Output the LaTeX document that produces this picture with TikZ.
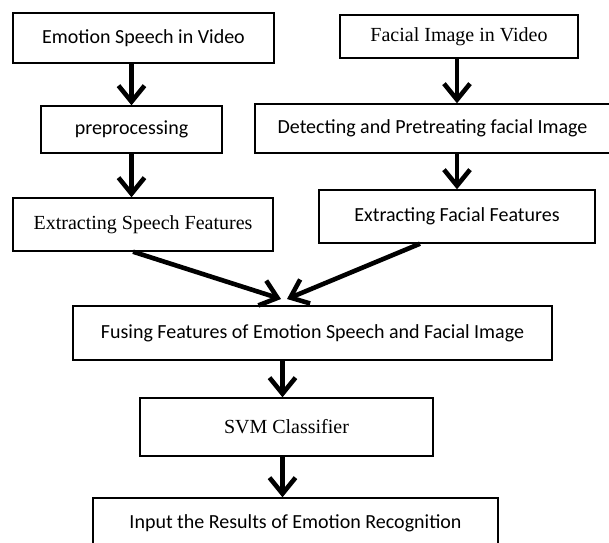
\documentclass[tikz,border=0pt]{standalone}
\usepackage{fontspec}
\setmainfont{Liberation Serif}
\newfontfamily\calibri{Carlito}
\usetikzlibrary{arrows.meta}
\tikzset{
  box/.style={draw, line width=1.4pt, inner sep=0pt, align=center},
  flow/.style={line width=4.6pt, -{Straight Barb[length=16pt, width=26pt]}}
}
\begin{document}
\begin{tikzpicture}[x=1pt, y=-1pt]
            \path [use as bounding box, clip] (0,0) rectangle (609,542);%
            {\fontsize{20}{24}\selectfont

            % Speech branch
            \node [box, minimum width=261pt, minimum height=50pt] (speech) at (143.5,38) {\calibri Emotion Speech in Video};%
            \node [box, minimum width=181pt, minimum height=47pt] (prep) at (131.5,129.5) {\calibri preprocessing};%
            \node [box, minimum width=260pt, minimum height=53pt] (speechfeat) at (143,224.5) {Extracting Speech Features};%

            % Facial branch
            \node [box, minimum width=238pt, minimum height=43pt] (facial) at (459,36.5) {Facial Image in Video};%
            \node [box, minimum width=355pt, minimum height=49pt] (detect) at (432.5,128.5) {\calibri Detecting and Pretreating facial Image};%
            \node [box, minimum width=276pt, minimum height=53pt] (facialfeat) at (457,216.5) {\calibri Extracting Facial Features};%

            % Fusion and classification
            \node [box, minimum width=479pt, minimum height=54pt] (fusing) at (312.5,333) {\calibri Fusing Features of Emotion Speech and Facial Image};%
            \node [box, minimum width=293pt, minimum height=58pt] (svm) at (286.5,427) {SVM Classifier};%
            \node [box, minimum width=405pt, minimum height=50pt] (result) at (295.5,523) {\calibri Input the Results of Emotion Recognition};%

            % Point where both feature arrows meet
            \coordinate (meet) at (284,299);%

            % Drawing arrows
            \draw [flow] (prep.north |- speech.south) -- (prep.north);%
            \draw [flow] (prep.south) -- (prep.south |- speechfeat.north);%
            \draw [flow] (facialfeat.north |- facial.south) -- (facialfeat.north |- detect.north);%
            \draw [flow] (facialfeat.north |- detect.south) -- (facialfeat.north);%
            \draw [flow] ([xshift=-10pt]speechfeat.south) -- ([xshift=-3pt]meet);%
            \draw [flow] ([xshift=-37pt]facialfeat.south) -- ([xshift=3pt]meet);%
            \draw [flow] ([xshift=-4pt]svm.north |- fusing.south) -- ([xshift=-4pt]svm.north);%
            \draw [flow] ([xshift=-4pt]svm.south) -- ([xshift=-4pt]svm.south |- result.north);%
            }
        \end{tikzpicture}
\end{document}
